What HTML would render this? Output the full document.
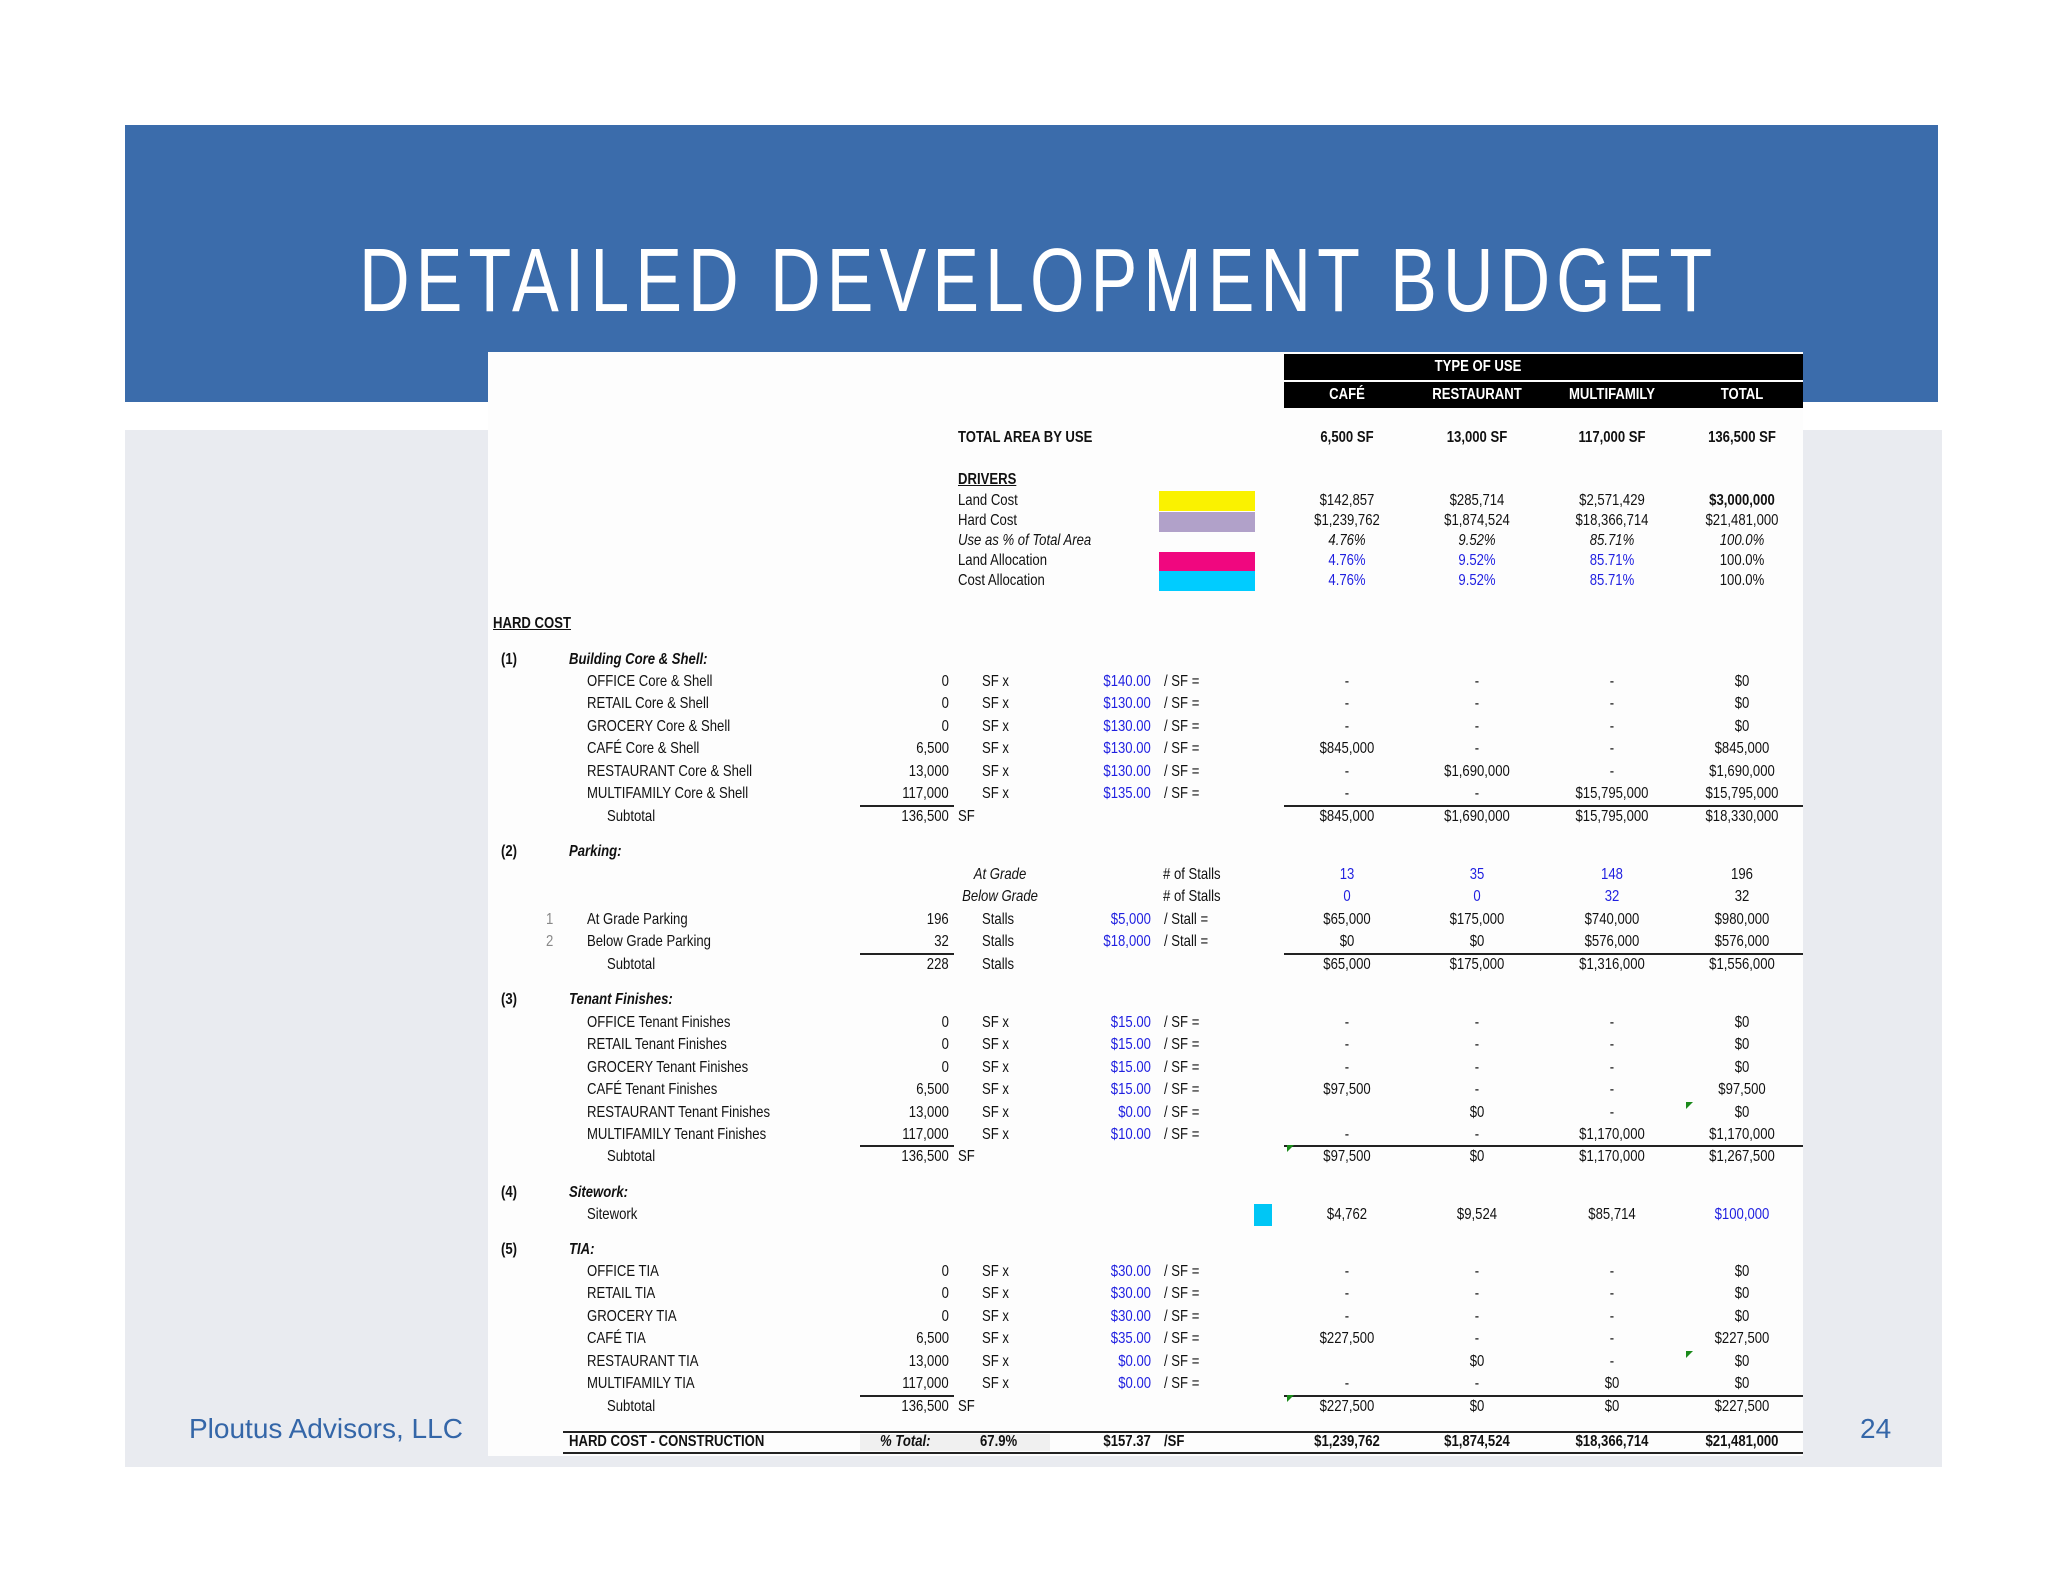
<!DOCTYPE html>
<html><head><meta charset="utf-8">
<style>
html,body{margin:0;padding:0;background:#fff;}
#page{position:relative;width:2048px;height:1582px;overflow:hidden;background:#fff;font-family:"Liberation Sans Narrow","Liberation Sans",sans-serif;}
.abs{position:absolute;}
.t{position:absolute;font-size:16px;line-height:18px;white-space:nowrap;color:#111;}
.b{font-weight:bold;}
.i{font-style:italic;}
.u{text-decoration:underline;}
.blue{color:#1f1fe0;}
.gray{color:#888;}
</style></head><body>
<div id="page">
  <div class="abs" style="left:125px;top:430px;width:1817px;height:1037px;background:#e9ebf0;"></div>
  <div class="abs" style="left:125px;top:125px;width:1813px;height:277px;background:#3b6cab;"></div>
  <svg class="abs" style="left:0;top:0" width="2048" height="400">
    <text x="359" y="311" textLength="1735" lengthAdjust="spacing" font-family="Liberation Sans Narrow, Liberation Sans, sans-serif" font-size="90" fill="#ffffff" transform="translate(359 0) scale(0.78 1) translate(-359 0)">DETAILED DEVELOPMENT BUDGET</text>
  </svg>
  <div class="abs" style="left:488px;top:352px;width:1315px;height:1104px;background:#fdfdfd;"></div>
  <div class="abs" style="left:1284px;top:354px;width:519px;height:26px;background:#000;"></div>
  <div class="abs" style="left:1284px;top:382px;width:519px;height:26px;background:#000;"></div>
  <div class="abs" style="left:189px;top:1413px;font-family:'Liberation Sans',sans-serif;font-size:28px;color:#3466a8;">Ploutus Advisors, LLC</div>
  <div class="abs" style="left:1860px;top:1413px;font-family:'Liberation Sans',sans-serif;font-size:28px;color:#3466a8;">24</div>
</div>
<script>
const page=document.getElementById('page');
const SX=0.82;
function T(x,y,s,align,cls,name){
  const el=document.createElement('div');
  el.className='t '+(cls||'');
  el.textContent=s;
  el.style.top=(y-9)+'px';
  if(align==='r'){el.style.right=(2048-x)+'px';el.style.transformOrigin='right center';}
  else if(align==='c'){el.style.left=(x-150)+'px';el.style.width='300px';el.style.textAlign='center';el.style.transformOrigin='center center';}
  else{el.style.left=x+'px';el.style.transformOrigin='left center';}
  el.style.transform='scaleX('+SX+')';
  
  
  page.appendChild(el);
  return el;
}
function box(x,y,w,h,c,name){
  const el=document.createElement('div');
  el.className='abs';
  el.style.cssText='left:'+x+'px;top:'+y+'px;width:'+w+'px;height:'+h+'px;background:'+c+';';
  
  
  page.appendChild(el);
}
const colX=[1347,1477,1612,1742];
T(1478,367,'TYPE OF USE','c','b','header-type-of-use').style.color='#fff';
const heads=['CAFÉ','RESTAURANT','MULTIFAMILY','TOTAL'];
heads.forEach((h,i)=>{T(colX[i],395,h,'c','b','column-header').style.color='#fff';});
T(958,438,'TOTAL AREA BY USE','l','b','total-area-label');
['6,500 SF','13,000 SF','117,000 SF','136,500 SF'].forEach((v,i)=>T(colX[i],438,v,'c','b','total-area-value'));
T(958,480,'DRIVERS','l','b u','drivers-label');
const drivers=[
 ['Land Cost',501,['$142,857','$285,714','$2,571,429','$3,000,000'],'',''],
 ['Hard Cost',521,['$1,239,762','$1,874,524','$18,366,714','$21,481,000'],'',''],
 ['Use as % of Total Area',541,['4.76%','9.52%','85.71%','100.0%'],'i','i'],
 ['Land Allocation',561,['4.76%','9.52%','85.71%','100.0%'],'','blue'],
 ['Cost Allocation',581,['4.76%','9.52%','85.71%','100.0%'],'','blue']];
drivers.forEach(d=>{
  T(958,d[1],d[0],'l',d[3],'driver-label');
  d[2].forEach((v,i)=>{
    let c=d[4];
    if(i===3){c=d[3]; if(d[0]==='Land Cost')c='b';}
    T(colX[i],d[1],v,'c',c,'driver-value');
  });
});
box(1159,491,96,20,'#faf200','land-cost-swatch');
box(1159,512,96,20,'#b1a1c9','hard-cost-swatch');
box(1159,552,96,19,'#f0077f','land-allocation-swatch');
box(1159,571,96,20,'#00ccff','cost-allocation-swatch');
T(493,624,'HARD COST','l','b u','hard-cost-heading');

function line(x1,x2,y,name){box(x1,y,x2-x1,2,'#222',name);}
function section(num,title,y){T(501,y,num,'l','b','section-number');T(569,y,title,'l','b i','section-title');}
function itemRow(y,label,qty,unit,rate,rateUnit,vals){
  T(587,y,label,'l','','row-label');
  T(949,y,qty,'r','','quantity');
  T(982,y,unit,'l','','unit');
  T(1151,y,rate,'r','blue','rate');
  T(1164,y,rateUnit,'l','','rate-unit');
  vals.forEach((v,i)=>T(colX[i],y,v,'c','','value'));
}
function subtotal(y,qty,unit,vals){
  T(607,y,'Subtotal','l','','subtotal-label');
  T(949,y,qty,'r','','subtotal-quantity');
  T(958,y,unit,'l','','subtotal-unit');
  vals.forEach((v,i)=>T(colX[i],y,v,'c','','subtotal-value'));
}
section('(1)','Building Core & Shell:',660);
const core=[
 ['OFFICE Core & Shell','0','$140.00',['-','-','-','$0']],
 ['RETAIL Core & Shell','0','$130.00',['-','-','-','$0']],
 ['GROCERY Core & Shell','0','$130.00',['-','-','-','$0']],
 ['CAFÉ Core & Shell','6,500','$130.00',['$845,000','-','-','$845,000']],
 ['RESTAURANT Core & Shell','13,000','$130.00',['-','$1,690,000','-','$1,690,000']],
 ['MULTIFAMILY Core & Shell','117,000','$135.00',['-','-','$15,795,000','$15,795,000']]];
core.forEach((r,k)=>itemRow(682+k*22.4,r[0],r[1],'SF  x',r[2],'/ SF =',r[3]));
line(860,954,805,'qty-underline');line(1284,1803,805,'value-underline');
subtotal(817,'136,500','SF',['$845,000','$1,690,000','$15,795,000','$18,330,000']);
section('(2)','Parking:',852);
T(1000,875,'At Grade','c','i','stall-type');T(1163,875,'# of Stalls','l','','stall-label');
['13','35','148','196'].forEach((v,i)=>T(colX[i],875,v,'c',i<3?'blue':'','stall-count'));
T(1000,897,'Below Grade','c','i','stall-type');T(1163,897,'# of Stalls','l','','stall-label');
['0','0','32','32'].forEach((v,i)=>T(colX[i],897,v,'c',i<3?'blue':'','stall-count'));
T(546,920,'1','l','gray','row-index');T(546,942,'2','l','gray','row-index');
itemRow(920,'At Grade Parking','196','Stalls','$5,000','/ Stall =',['$65,000','$175,000','$740,000','$980,000']);
itemRow(942,'Below Grade Parking','32','Stalls','$18,000','/ Stall =',['$0','$0','$576,000','$576,000']);
line(860,954,953,'qty-underline');line(1284,1803,953,'value-underline');
subtotal(965,'228','',['$65,000','$175,000','$1,316,000','$1,556,000']);
T(982,965,'Stalls','l','','subtotal-unit');
section('(3)','Tenant Finishes:',1000);
const tf=[
 ['OFFICE Tenant Finishes','0','$15.00',['-','-','-','$0']],
 ['RETAIL Tenant Finishes','0','$15.00',['-','-','-','$0']],
 ['GROCERY Tenant Finishes','0','$15.00',['-','-','-','$0']],
 ['CAFÉ Tenant Finishes','6,500','$15.00',['$97,500','-','-','$97,500']],
 ['RESTAURANT Tenant Finishes','13,000','$0.00',['','$0','-','$0']],
 ['MULTIFAMILY Tenant Finishes','117,000','$10.00',['-','-','$1,170,000','$1,170,000']]];
tf.forEach((r,k)=>itemRow(1023+k*22.4,r[0],r[1],'SF  x',r[2],'/ SF =',r[3]));
line(860,954,1145,'qty-underline');line(1284,1803,1145,'value-underline');
subtotal(1157,'136,500','SF',['$97,500','$0','$1,170,000','$1,267,500']);
section('(4)','Sitework:',1193);
T(587,1215,'Sitework','l','','row-label');
['$4,762','$9,524','$85,714','$100,000'].forEach((v,i)=>T(colX[i],1215,v,'c',i===3?'blue':'','sitework-value'));
box(1254,1204,18,22,'#00c6f5','sitework-swatch');
section('(5)','TIA:',1250);
const tia=[
 ['OFFICE TIA','0','$30.00',['-','-','-','$0']],
 ['RETAIL TIA','0','$30.00',['-','-','-','$0']],
 ['GROCERY TIA','0','$30.00',['-','-','-','$0']],
 ['CAFÉ TIA','6,500','$35.00',['$227,500','-','-','$227,500']],
 ['RESTAURANT TIA','13,000','$0.00',['','$0','-','$0']],
 ['MULTIFAMILY TIA','117,000','$0.00',['-','-','$0','$0']]];
tia.forEach((r,k)=>itemRow(1272+k*22.4,r[0],r[1],'SF  x',r[2],'/ SF =',r[3]));
line(860,954,1395,'qty-underline');line(1284,1803,1395,'value-underline');
subtotal(1407,'136,500','SF',['$227,500','$0','$0','$227,500']);
line(563,1803,1431,'total-top-line');line(563,1803,1452,'total-bottom-line');
box(860,1434,190,17,'#f0f0f0','percent-shade');
T(569,1442,'HARD COST - CONSTRUCTION','l','b','grand-total-label');
T(880,1442,'% Total:','l','b i','percent-label');
T(980,1442,'67.9%','l','b','percent-value');
T(1151,1442,'$157.37','r','b','per-sf-value');
T(1164,1442,'/SF','l','b','per-sf-unit');
['$1,239,762','$1,874,524','$18,366,714','$21,481,000'].forEach((v,i)=>T(colX[i],1442,v,'c','b','grand-total-value'));
[[1686,1102],[1287,1145],[1686,1351],[1287,1395]].forEach(p=>{
  const el=document.createElement('div');
  el.className='abs';
  el.style.cssText='left:'+p[0]+'px;top:'+p[1]+'px;width:0;height:0;border-top:7px solid #1a8a1a;border-right:7px solid transparent;';
  
  
  page.appendChild(el);
});
</script>
</body></html>
